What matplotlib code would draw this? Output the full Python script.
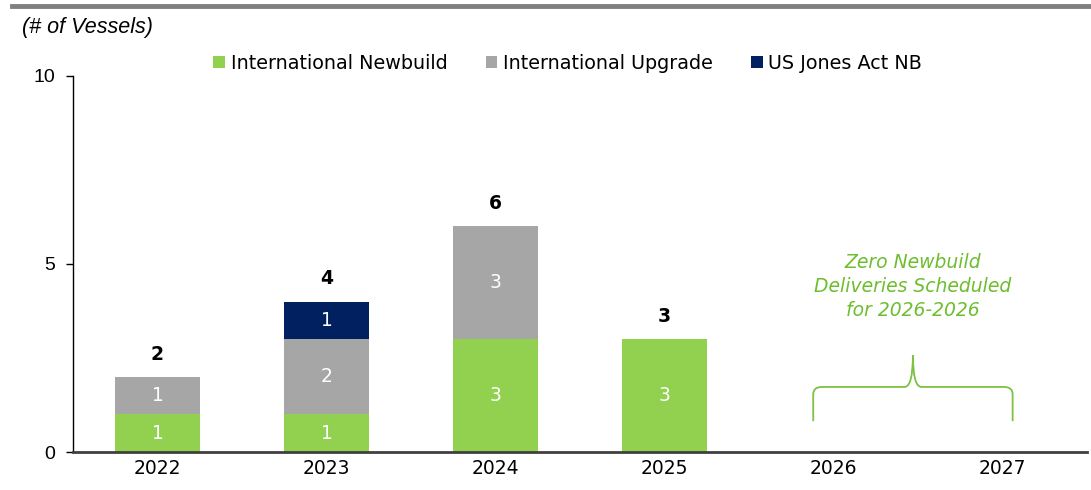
import matplotlib
matplotlib.use("Agg")
import matplotlib.pyplot as plt
from matplotlib.path import Path
from matplotlib.patches import PathPatch
import numpy as np

years = ["2022", "2023", "2024", "2025", "2026", "2027"]
intl_newbuild = [1, 1, 3, 3, 0, 0]
intl_upgrade = [1, 2, 3, 0, 0, 0]
us_jones = [0, 1, 0, 0, 0, 0]
series_names = ["International Newbuild", "International Upgrade", "US Jones Act NB"]
colors = ["#92D050", "#A6A6A6", "#002060"]
y_ticks = [0, 5, 10]

fig = plt.figure(figsize=(10.91, 4.90), dpi=100)
ax = fig.add_axes([73/1091, 38/490, 1014/1091, 376/490])

x = np.arange(len(years))
series = [intl_newbuild, intl_upgrade, us_jones]
bottom = np.zeros(len(years))
for vals, name, col in zip(series, series_names, colors):
    vals = np.array(vals, dtype=float)
    ax.bar(x, vals, 0.5, bottom=bottom, color=col, label=name, edgecolor="none")
    for xi, v, b in zip(x, vals, bottom):
        if v > 0:
            ax.text(xi, b + v / 2, f"{int(v)}", ha="center", va="center",
                    color="white", fontsize=13.5, family="DejaVu Sans")
    bottom += vals

for xi, tot in zip(x, bottom):
    if tot > 0:
        ax.text(xi, tot + 0.35, f"{int(tot)}", ha="center", va="bottom",
                fontsize=13.5, fontweight="bold", family="DejaVu Sans", color="black")

ax.set_xlim(-0.5, 5.5)
ax.set_ylim(0, 10)
ax.set_yticks(y_ticks)
ax.set_yticklabels([str(t) for t in y_ticks], family="Liberation Sans", fontsize=14)
ax.set_xticks(x)
ax.set_xticklabels(years, family="DejaVu Sans", fontsize=13.5)
ax.tick_params(axis="x", length=0, pad=5)
ax.tick_params(axis="y", length=5, width=1, direction="out", pad=8)
for s in ["top", "right"]:
    ax.spines[s].set_visible(False)
ax.spines["left"].set_color("black")
ax.spines["left"].set_linewidth(1)
ax.spines["bottom"].set_color("#404040")
ax.spines["bottom"].set_linewidth(2)

ax.legend(loc="upper center", bbox_to_anchor=(0.488, 1.105), ncol=3, frameon=False,
          handlelength=0.6, handleheight=0.6, handletextpad=0.3, columnspacing=2.0,
          prop={"family": "DejaVu Sans", "size": 13.8})

# annotation brace
bx0, bx1, bxm = 3.88, 5.06, 4.47
yb, yh, yp = 0.82, 1.73, 2.58
rx, ry = 0.05, 0.2
verts = [(bx0, yb), (bx0, yh - ry), (bx0, yh), (bx0 + rx, yh),
         (bxm - rx, yh), (bxm, yh), (bxm, yp),
         (bxm, yp), (bxm, yh), (bxm + rx, yh), (bx1 - rx, yh),
         (bx1, yh), (bx1, yh - ry), (bx1, yb)]
codes = [Path.MOVETO, Path.LINETO, Path.CURVE3, Path.CURVE3,
         Path.LINETO, Path.CURVE3, Path.CURVE3,
         Path.MOVETO, Path.CURVE3, Path.CURVE3, Path.LINETO,
         Path.CURVE3, Path.CURVE3, Path.LINETO]
ax.add_patch(PathPatch(Path(verts, codes), facecolor="none", edgecolor="#7DC242", lw=1.3))
ax.text(bxm, 4.4, "Zero Newbuild\nDeliveries Scheduled\nfor 2026-2026", ha="center", va="center",
        color="#6DBE2E", fontsize=13.5, style="italic", family="DejaVu Sans", linespacing=1.35)

fig.text(22/1091, 1 - 27/490, "(# of Vessels)", ha="left", va="center", style="italic",
         family="Liberation Sans", fontsize=15.5)
fig.add_artist(plt.Line2D([12/1091, 1.0], [1 - 6/490, 1 - 6/490], color="#808080", lw=3.5,
                          transform=fig.transFigure))

fig.savefig("out.png", dpi=100)
